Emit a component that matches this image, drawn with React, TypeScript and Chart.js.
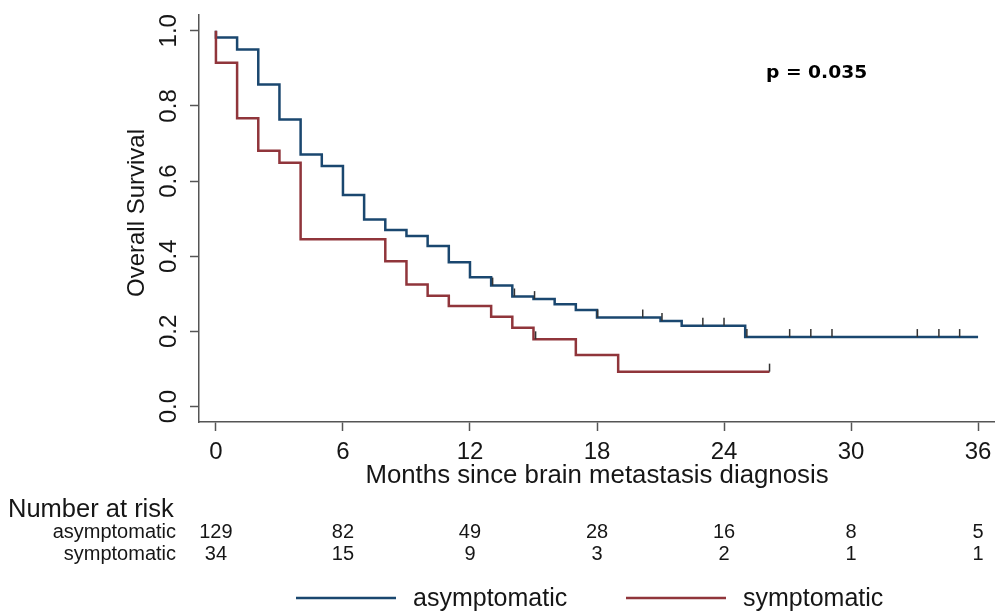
import React, { useEffect, useRef } from "react";
import { Chart, registerables } from "chart.js";

Chart.register(...registerables);

// ---- data ----
const xTicks = [0, 6, 12, 18, 24, 30, 36];
const yTicks = [0, 0.2, 0.4, 0.6, 0.8, 1.0];
const yTickLabels = ["0.0", "0.2", "0.4", "0.6", "0.8", "1.0"];

const asymTimes = [0, 0, 1, 2, 3, 4, 5, 6, 7, 8, 9, 10, 11, 12, 13, 14, 15, 16, 17, 18, 21, 22, 25, 36];
const asymSurv = [1.0, 0.982, 0.95, 0.857, 0.764, 0.671, 0.64, 0.563, 0.498, 0.47, 0.454, 0.427, 0.384, 0.344, 0.322, 0.293, 0.286, 0.272, 0.257, 0.237, 0.228, 0.215, 0.185, 0.185];
const asymCensor = [13.07, 14.1, 15.05, 18.03, 20.16, 21.07, 23.0, 24.0, 25.08, 27.1, 28.1, 29.1, 33.13, 34.15, 35.13];

const symTimes = [0, 0, 1, 2, 3, 4, 8, 9, 10, 11, 13, 14, 15, 17, 19, 26.15];
const symSurv = [1.0, 0.915, 0.767, 0.681, 0.649, 0.445, 0.387, 0.325, 0.295, 0.268, 0.239, 0.21, 0.179, 0.137, 0.093, 0.093];
const symCensor = [15.1, 26.15];

const groupNames = ["asymptomatic", "symptomatic"];
const riskAsym = [129, 82, 49, 28, 16, 8, 5];
const riskSym = [34, 15, 9, 3, 2, 1, 1];
const pValueText = "p = 0.035";
const xTitle = "Months since brain metastasis diagnosis";
const yTitle = "Overall Survival";

const BLUE = "#1a476f";
const RED = "#90353b";
const AXIS = "#555555";
const TEXT = "#161616";
const FONT = "'Liberation Sans', Arial, sans-serif";

function survAt(times: number[], surv: number[], t: number) {
  let s = surv[0];
  for (let i = 0; i < times.length; i++) {
    if (times[i] <= t) s = surv[i];
  }
  return s;
}

const kmPlugin = {
  id: "kmExtras",
  afterDatasetsDraw(chart: any) {
    const ctx = chart.ctx;
    const xs = chart.scales.x;
    const ys = chart.scales.y;
    ctx.save();
    ctx.strokeStyle = "#333333";
    ctx.lineWidth = 1.5;
    const marks: [number[], number[], number[]][] = [
      [asymTimes, asymSurv, asymCensor],
      [symTimes, symSurv, symCensor],
    ];
    for (const [tt, ss, cc] of marks) {
      for (const c of cc) {
        const px = xs.getPixelForValue(c);
        const py = ys.getPixelForValue(survAt(tt, ss, c));
        ctx.beginPath();
        ctx.moveTo(px, py);
        ctx.lineTo(px, py - 8);
        ctx.stroke();
      }
    }
    ctx.restore();
  },
  afterDraw(chart: any) {
    const ctx = chart.ctx;
    const xs = chart.scales.x;
    const ys = chart.scales.y;
    const area = chart.chartArea;
    ctx.save();
    ctx.fillStyle = TEXT;

    // x tick labels
    ctx.font = `24px ${FONT}`;
    ctx.textAlign = "center";
    ctx.textBaseline = "alphabetic";
    xTicks.forEach((v) => {
      ctx.fillText(String(v), xs.getPixelForValue(v), 459);
    });
    // x title
    ctx.font = `25.8px ${FONT}`;
    ctx.fillText(xTitle, (area.left + area.right) / 2, 483);

    // y tick labels (rotated)
    ctx.font = `24px ${FONT}`;
    yTicks.forEach((v, i) => {
      ctx.save();
      ctx.translate(176, ys.getPixelForValue(v));
      ctx.rotate(-Math.PI / 2);
      ctx.textAlign = "center";
      ctx.fillText(yTickLabels[i], 0, 0);
      ctx.restore();
    });
    // y title
    ctx.save();
    ctx.translate(144, 213);
    ctx.rotate(-Math.PI / 2);
    ctx.textAlign = "center";
    ctx.font = `24px ${FONT}`;
    ctx.fillText(yTitle, 0, 0);
    ctx.restore();

    // p value
    ctx.save();
    ctx.fillStyle = "#000000";
    ctx.font = `bold 17px 'DejaVu Sans', ${FONT}`;
    ctx.textAlign = "left";
    ctx.translate(766, 78);
    ctx.scale(1.1, 1);
    ctx.fillText(pValueText, 0, 0);
    ctx.restore();

    // number at risk table
    ctx.textAlign = "left";
    ctx.font = `25.5px ${FONT}`;
    ctx.fillText("Number at risk", 8, 517);
    ctx.font = `20px ${FONT}`;
    ctx.textAlign = "right";
    ctx.fillText(groupNames[0], 176, 538);
    ctx.fillText(groupNames[1], 176, 560);
    ctx.textAlign = "center";
    xTicks.forEach((v, i) => {
      const px = xs.getPixelForValue(v);
      ctx.fillText(String(riskAsym[i]), px, 538);
      ctx.fillText(String(riskSym[i]), px, 560);
    });

    // legend
    ctx.lineWidth = 2.5;
    ctx.strokeStyle = BLUE;
    ctx.beginPath();
    ctx.moveTo(296, 598);
    ctx.lineTo(396, 598);
    ctx.stroke();
    ctx.strokeStyle = RED;
    ctx.beginPath();
    ctx.moveTo(626, 598);
    ctx.lineTo(726, 598);
    ctx.stroke();
    ctx.font = `25px ${FONT}`;
    ctx.textAlign = "left";
    ctx.fillText(groupNames[0], 413, 606);
    ctx.fillText(groupNames[1], 743, 606);

    ctx.restore();
  },
};

export default function App() {
  const canvasRef = useRef<HTMLCanvasElement | null>(null);

  useEffect(() => {
    const canvas = canvasRef.current;
    if (!canvas) return;
    const chart = new Chart(canvas, {
      type: "line",
      data: {
        datasets: [
          {
            label: groupNames[1],
            data: symTimes.map((t, i) => ({ x: t, y: symSurv[i] })),
            borderColor: RED,
            borderWidth: 2.5,
            pointRadius: 0,
            stepped: "before",
            fill: false,
          },
          {
            label: groupNames[0],
            data: asymTimes.map((t, i) => ({ x: t, y: asymSurv[i] })),
            borderColor: BLUE,
            borderWidth: 2.5,
            pointRadius: 0,
            stepped: "before",
            fill: false,
          },
        ],
      },
      options: {
        responsive: false,
        animation: false,
        layout: { padding: { left: 190, right: 0, top: 15, bottom: 181 } },
        plugins: {
          legend: { display: false },
          tooltip: { enabled: false },
          title: { display: false },
        },
        scales: {
          x: {
            type: "linear",
            min: -0.8,
            max: 36.8,
            afterBuildTicks: (scale: any) => {
              scale.ticks = xTicks.map((v) => ({ value: v }));
            },
            ticks: { display: false },
            grid: {
              display: true,
              drawOnChartArea: false,
              drawTicks: true,
              tickLength: 9,
              tickColor: AXIS,
              tickWidth: 1.5,
            },
            border: { display: true, color: AXIS, width: 1.5 },
            title: { display: false },
          },
          y: {
            type: "linear",
            min: -0.041,
            max: 1.042,
            afterBuildTicks: (scale: any) => {
              scale.ticks = yTicks.map((v) => ({ value: v }));
            },
            ticks: { display: false },
            grid: {
              display: true,
              drawOnChartArea: false,
              drawTicks: true,
              tickLength: 9,
              tickColor: AXIS,
              tickWidth: 1.5,
            },
            border: { display: true, color: AXIS, width: 1.5 },
            title: { display: false },
          },
        },
      },
      plugins: [kmPlugin],
    });
    return () => chart.destroy();
  }, []);

  return (
    <div style={{ position: "fixed", left: 0, top: 0, width: 995, height: 612, background: "#ffffff" }}>
      <canvas ref={canvasRef} width={995} height={612} />
    </div>
  );
}
